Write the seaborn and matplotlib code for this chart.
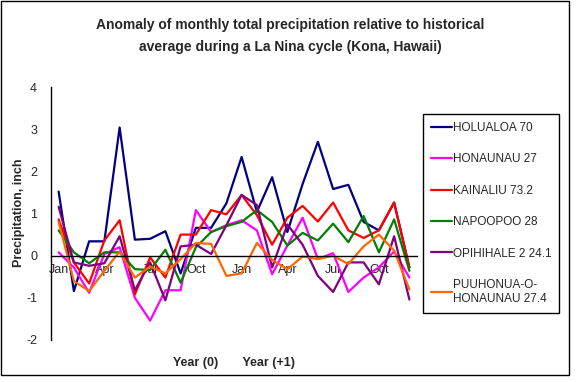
import matplotlib
matplotlib.use('Agg')
import matplotlib.pyplot as plt
import pandas as pd
import seaborn as sns
from matplotlib.patches import Rectangle

MONTHS = ['Jan', 'Feb', 'Mar', 'Apr', 'May', 'Jun',
          'Jul', 'Aug', 'Sep', 'Oct', 'Nov', 'Dec'] * 2

STATIONS = ['HOLUALOA 70', 'HONAUNAU 27', 'KAINALIU 73.2',
            'NAPOOPOO 28', 'OPIHIHALE 2 24.1', 'PUUHONUA-O-\nHONAUNAU 27.4']
COLORS = ['#000080', '#FF00FF', '#FF0000', '#008000', '#800080', '#FF6600']

holualoa = [1.52, -0.84, 0.34, 0.34, 3.04, 0.38, 0.40, 0.58, -0.42, 0.66, 0.66, 1.24,
            2.34, 1.04, 1.86, 0.56, 1.70, 2.70, 1.58, 1.68, 0.80, 0.60, 1.26, -0.28]
honaunau = [0.08, -0.28, -0.88, 0.04, 0.20, -1.00, -1.54, -0.82, -0.82, 1.08, 0.56, 0.72,
            0.84, 0.60, -0.44, 0.24, 0.90, -0.08, 0.06, -0.86, -0.52, -0.28, 0.10, -0.52]
kainaliu = [0.86, -0.16, -0.66, 0.36, 0.84, -0.92, -0.04, -0.52, 0.50, 0.50, 1.08, 0.98,
            1.44, 0.96, 0.26, 0.90, 1.18, 0.81, 1.26, 0.60, 0.42, 0.60, 1.26, -0.28]
napoopoo = [0.60, 0.08, -0.18, 0.08, 0.08, -0.32, -0.34, 0.14, -0.64, 0.20, 0.56, 0.70,
            0.80, 1.08, 0.80, 0.24, 0.54, 0.36, 0.76, 0.32, 0.94, 0.08, 0.86, -0.36]
opihihale = [1.16, -0.16, -0.24, -0.18, 0.46, -0.82, -0.16, -1.06, 0.22, 0.26, 0.04, 0.72,
             1.44, 1.20, -0.28, 0.74, 0.26, -0.48, -0.86, -0.16, -0.16, -0.68, 0.46, -1.04]
puuhonua = [0.80, -0.60, -0.84, -0.36, 0.10, -0.52, -0.26, -0.42, -0.08, 0.30, 0.28, -0.48,
            -0.42, 0.30, -0.10, -0.32, -0.02, -0.08, 0.00, -0.20, 0.22, 0.50, 0.12, -0.80]

SERIES = [holualoa, honaunau, kainaliu, napoopoo, opihihale, puuhonua]


def build_frame():
    rows = []
    for name, values in zip(STATIONS, SERIES):
        for i, v in enumerate(values):
            rows.append({'idx': i, 'month': MONTHS[i], 'station': name, 'value': v})
    return pd.DataFrame(rows)


def plot_data(df):
    sns.set_style('white')
    plt.rcParams['font.family'] = ['Liberation Sans', 'DejaVu Sans']
    plt.rcParams['axes.unicode_minus'] = False

    fig = plt.figure(figsize=(5.77, 3.82), dpi=100)
    ax = fig.add_axes([51 / 577, 42 / 382, 366 / 577, 253 / 382])

    sns.lineplot(data=df, x='idx', y='value', hue='station', hue_order=STATIONS,
                 palette=COLORS, linewidth=1.6, ax=ax, legend=True)

    ax.set_xlim(-0.5, len(MONTHS) - 0.5)
    ax.set_ylim(-2, 4)
    ax.set_xlabel('')
    ax.set_ylabel('')

    # x axis sits on zero, ticks between categories, labels every 3 months
    ax.spines['top'].set_visible(False)
    ax.spines['right'].set_visible(False)
    ax.spines['bottom'].set_position(('data', 0))
    for s in ('left', 'bottom'):
        ax.spines[s].set_linewidth(1.0)
        ax.spines[s].set_color('black')

    ax.set_xticks([k - 0.5 for k in range(len(MONTHS) + 1)])
    ax.set_xticklabels([])
    ax.set_xticks(list(range(0, len(MONTHS), 3)), minor=True)
    ax.set_xticklabels(MONTHS[::3], minor=True, fontsize=9)
    ax.tick_params(axis='x', which='major', direction='out', length=4, width=1, color='black')
    ax.tick_params(axis='x', which='minor', length=0, pad=6)

    ax.set_yticks(range(-2, 5))
    ax.tick_params(axis='y', direction='out', length=4, width=1, color='black', labelsize=9, pad=6)

    handles, labels = ax.get_legend_handles_labels()
    ax.legend(handles, labels, loc='upper left', bbox_to_anchor=(423 / 577, 1 - 114 / 382),
              bbox_transform=fig.transFigure, fontsize=8.5, frameon=True, fancybox=False,
              edgecolor='black', framealpha=1, labelspacing=1.65, handlelength=1.8,
              handletextpad=0.1, borderpad=0.65, borderaxespad=0)
    ax.get_legend().get_frame().set_linewidth(1.0)

    fig.text(290 / 577, 1 - 25 / 382,
             'Anomaly of monthly total precipitation relative to historical',
             ha='center', va='center', fontsize=10, fontweight='bold')
    fig.text(290 / 577, 1 - 47 / 382,
             'average during a La Nina cycle (Kona, Hawaii)',
             ha='center', va='center', fontsize=10, fontweight='bold')
    fig.text(234 / 577, 1 - 363 / 382, 'Year (0)       Year (+1)',
             ha='center', va='center', fontsize=9, fontweight='bold')
    fig.text(19 / 577, 1 - 213 / 382, 'Precipitation, inch', rotation=90,
             ha='center', va='center', fontsize=9, fontweight='bold')

    fig.patches.append(Rectangle((1 / 577, 7 / 382), 568 / 577, 374 / 382,
                                 transform=fig.transFigure, fill=False,
                                 edgecolor='black', linewidth=1.0))

    fig.savefig('out.png', dpi=100)


def main():
    df = build_frame()
    plot_data(df)


if __name__ == "__main__":
    main()
